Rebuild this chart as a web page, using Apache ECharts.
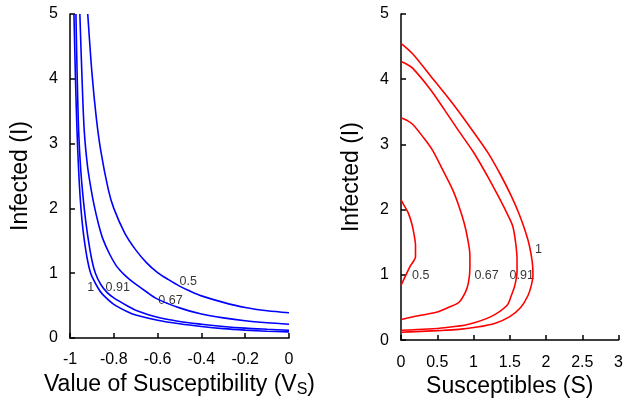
<!DOCTYPE html>
<html>
<head>
<meta charset="utf-8">
<script src="https://cdn.jsdelivr.net/npm/echarts@6/dist/echarts.min.js"></script>
<style>
html,body{margin:0;padding:0;background:#fff;}
#chart{width:626px;height:403px;}
</style>
</head>
<body>
<div id="chart"></div>
<script>
// ---- Left panel: Infected (I) vs value of susceptibility (V_S) ----
const leftV_05 = [-0.919, -0.9, -0.88, -0.86, -0.825, -0.8, -0.75, -0.7, -0.65, -0.6, -0.55, -0.5, -0.45, -0.4, -0.3, -0.2, -0.1, 0];
const leftI_05 = [5.0, 4.1, 3.4, 2.9, 2.29, 2.0, 1.62, 1.36, 1.16, 1.01, 0.9, 0.8, 0.72, 0.65, 0.55, 0.47, 0.42, 0.39];

const leftV_067 = [-0.955, -0.945, -0.935, -0.92, -0.904, -0.89, -0.87, -0.85, -0.82, -0.79, -0.773, -0.75, -0.727, -0.7, -0.65, -0.6, -0.5, -0.4, -0.3, -0.2, -0.1, 0];
const leftI_067 = [5.0, 4.0, 3.2, 2.65, 2.3, 2.05, 1.76, 1.53, 1.3, 1.12, 1.05, 0.97, 0.9, 0.83, 0.71, 0.6, 0.465, 0.37, 0.31, 0.265, 0.235, 0.213];

const leftV_091 = [-0.973, -0.967, -0.96, -0.95, -0.935, -0.92, -0.9, -0.884, -0.86, -0.83, -0.8, -0.735, -0.7, -0.6, -0.5, -0.4, -0.3, -0.2, -0.1, 0];
const leftI_091 = [5.0, 4.0, 3.15, 2.55, 2.0, 1.6, 1.2, 1.0, 0.83, 0.7, 0.62, 0.49, 0.43, 0.32, 0.255, 0.213, 0.178, 0.152, 0.135, 0.12];

const leftV_1 = [-0.982, -0.975, -0.968, -0.96, -0.95, -0.94, -0.93, -0.92, -0.91, -0.9, -0.87, -0.85, -0.8, -0.735, -0.7, -0.6, -0.5, -0.4, -0.3, -0.2, -0.1, 0];
const leftI_1 = [5.0, 4.0, 3.2, 2.55, 2.0, 1.65, 1.4, 1.2, 1.05, 0.95, 0.76, 0.67, 0.52, 0.4, 0.355, 0.275, 0.22, 0.178, 0.145, 0.122, 0.105, 0.095];

const leftLabelText = ['0.5', '0.67', '0.91', '1'];
const leftLabelV = [-0.46, -0.541, -0.782, -0.905];
const leftLabelI = [0.875, 0.585, 0.776, 0.776];

// ---- Right panel: Infected (I) vs Susceptibles (S) ----
const rightS_05 = [0, 0.05, 0.1, 0.15, 0.18, 0.2, 0.2, 0.12, 0.06, 0];
const rightI_05 = [2.15, 2.05, 1.95, 1.78, 1.62, 1.45, 1.28, 1.12, 0.98, 0.84];

const rightS_067 = [0, 0.08, 0.16, 0.3, 0.43, 0.57, 0.71, 0.8, 0.87, 0.92, 0.95, 0.95, 0.93, 0.89, 0.8, 0.65, 0.5, 0.3, 0.15, 0];
const rightI_067 = [3.41, 3.37, 3.31, 3.12, 2.92, 2.62, 2.31, 2.05, 1.8, 1.55, 1.3, 1.1, 0.88, 0.74, 0.58, 0.5, 0.43, 0.385, 0.355, 0.315];

const rightS_091 = [0, 0.08, 0.16, 0.4, 0.6, 0.8, 1.0, 1.2, 1.34, 1.45, 1.54, 1.58, 1.6, 1.6, 1.57, 1.52, 1.46, 1.24, 0.92, 0.6, 0.37, 0];
const rightI_091 = [4.27, 4.23, 4.17, 3.85, 3.53, 3.2, 2.88, 2.5, 2.21, 1.97, 1.75, 1.5, 1.24, 1.05, 0.84, 0.68, 0.53, 0.36, 0.24, 0.19, 0.17, 0.15];

const rightS_1 = [0, 0.16, 0.4, 0.71, 1.0, 1.2, 1.38, 1.52, 1.63, 1.72, 1.77, 1.81, 1.82, 1.8, 1.75, 1.65, 1.5, 1.3, 1.05, 0.8, 0.5, 0.2, 0];
const rightI_1 = [4.55, 4.39, 4.06, 3.63, 3.19, 2.87, 2.52, 2.21, 1.93, 1.65, 1.45, 1.2, 1.0, 0.85, 0.68, 0.5, 0.36, 0.26, 0.2, 0.165, 0.145, 0.13, 0.12];

const rightLabelText = ['0.5', '0.67', '0.91', '1'];
const rightLabelS = [0.273, 1.18, 1.665, 1.896];
const rightLabelI = [0.99, 0.99, 0.99, 1.396];

// axis ticks
const yTickMin = 0, yTickMax = 5, yTickStep = 1;
const leftXMin = -1, leftXMax = 0, leftXStep = 0.2;
const rightXMin = 0, rightXMax = 3, rightXStep = 0.5;

const FONT = 'Liberation Sans, Arial, Helvetica, sans-serif';
function pairs(xs, ys) { return xs.map((x, i) => [x, ys[i]]); }
function labelData(xs, ys, t) { return xs.map((x, i) => [x, ys[i], t[i]]); }

function lineSeries(xIdx, xs, ys, color) {
  return {
    type: 'line', xAxisIndex: xIdx, yAxisIndex: xIdx,
    data: pairs(xs, ys), symbol: 'none', showSymbol: false,
    smooth: 0.3,
    lineStyle: { color: color, width: 1.6 }, silent: true, clip: true
  };
}
function labelSeries(xIdx, xs, ys, t) {
  return {
    type: 'scatter', xAxisIndex: xIdx, yAxisIndex: xIdx, silent: true,
    data: labelData(xs, ys, t), symbolSize: 1,
    itemStyle: { color: 'rgba(0,0,0,0)' },
    label: { show: true, position: 'inside', formatter: p => p.value[2],
      color: '#000', fontSize: 12.5, fontFamily: FONT }
  };
}

const axisLine = { show: true, onZero: false, lineStyle: { color: '#000', width: 1.5 } };
const axisTick = { show: true, inside: true, length: 5, lineStyle: { color: '#000', width: 1.5 } };
const axisLabel = { color: '#000', fontSize: 16, fontFamily: FONT };
const nameStyle = { color: '#000', fontSize: 23, fontFamily: FONT,
  rich: { sub: { fontSize: 16, fontFamily: FONT, color: '#000', padding: [11, 0, 0, 0] } } };

function xAxis(gi, mn, mx, st, name) {
  return { type: 'value', gridIndex: gi, position: 'bottom', min: mn, max: mx, interval: st,
    axisLine, axisTick, axisLabel: Object.assign({ margin: 14 }, axisLabel),
    splitLine: { show: false }, name: name, nameLocation: 'middle', nameGap: 33,
    nameTextStyle: nameStyle };
}
function yAxis(gi) {
  return { type: 'value', gridIndex: gi, position: 'left', min: yTickMin, max: yTickMax, interval: yTickStep,
    axisLine, axisTick, axisLabel: Object.assign({ margin: 12 }, axisLabel),
    splitLine: { show: false }, name: 'Infected (I)', nameLocation: 'middle', nameGap: 38,
    nameTextStyle: nameStyle };
}

const chart = echarts.init(document.getElementById('chart'), null, { renderer: 'canvas' });
chart.setOption({
  animation: false,
  backgroundColor: '#fff',
  grid: [
    { left: 70, right: 337, top: 14, bottom: 62 },
    { left: 401, right: 6, top: 14, bottom: 62 }
  ],
  xAxis: [
    xAxis(0, leftXMin, leftXMax, leftXStep, 'Value of Susceptibility (V{sub|S})'),
    xAxis(1, rightXMin, rightXMax, rightXStep, 'Susceptibles (S)')
  ],
  yAxis: [yAxis(0), yAxis(1)],
  series: [
    lineSeries(0, leftV_05, leftI_05, '#0000ff'),
    lineSeries(0, leftV_067, leftI_067, '#0000ff'),
    lineSeries(0, leftV_091, leftI_091, '#0000ff'),
    lineSeries(0, leftV_1, leftI_1, '#0000ff'),
    labelSeries(0, leftLabelV, leftLabelI, leftLabelText),
    lineSeries(1, rightS_05, rightI_05, '#ff0000'),
    lineSeries(1, rightS_067, rightI_067, '#ff0000'),
    lineSeries(1, rightS_091, rightI_091, '#ff0000'),
    lineSeries(1, rightS_1, rightI_1, '#ff0000'),
    labelSeries(1, rightLabelS, rightLabelI, rightLabelText)
  ]
});
</script>
</body>
</html>
